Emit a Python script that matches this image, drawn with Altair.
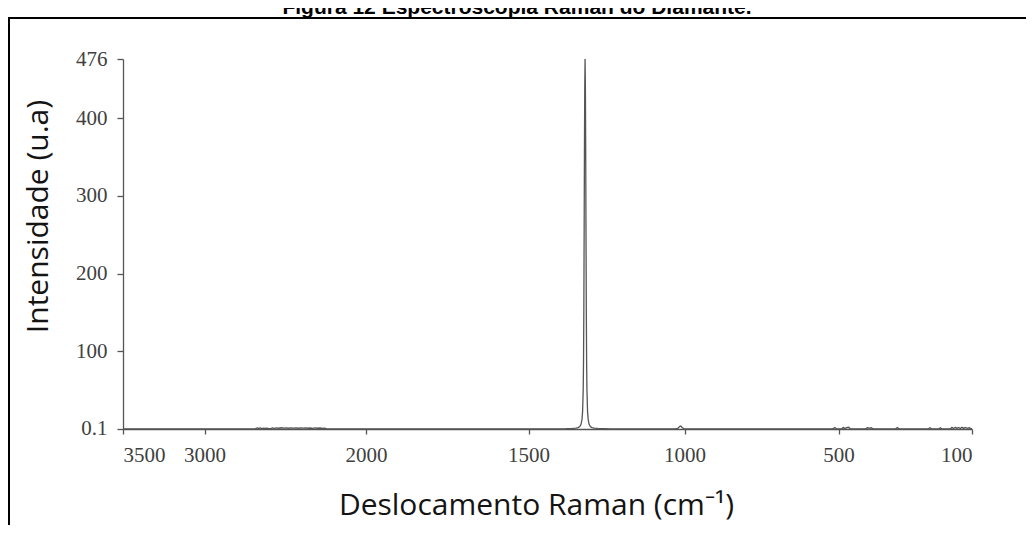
import altair as alt
import pandas as pd

# Raman shift (cm^-1) and intensity (a.u.)
shift = [3500, 2690, 2680, 2672, 2665, 2655, 2645, 2635, 2625, 2612, 2600, 2590,
         2580, 2568, 2555, 2540, 2525, 2510, 2495, 2480, 2465, 2450, 2435, 2420,
         2405, 2390, 2375, 2360, 2345, 2330, 2315, 2300, 2285, 2270, 2255, 2245,
         1400, 1380, 1372, 1360, 1349, 1341, 1336, 1332, 1329, 1327, 1325, 1324,
         1323, 1322, 1321, 1320, 1319, 1318, 1317, 1316, 1315, 1314, 1313, 1311,
         1309, 1306, 1302, 1297, 1289, 1278, 1266, 1258, 1240,
         1030, 1022, 1016, 1012, 1008, 1003, 995,
         520, 512, 507, 490, 486, 482, 476, 470, 465, 420, 414, 408, 402, 396,
         330, 324, 318, 232, 226, 220, 200, 195, 190, 165, 160, 155, 150, 145,
         140, 135, 130, 125, 120, 114, 108, 104, 100]
intensity = [0, 0, 0.8, 1.4, 0.7, 1.3, 0.6, 1.2, 0.8, 1.0, 0.3, 0.6,
             1.3, 0.9, 1.5, 1.0, 1.6, 1.1, 1.5, 1.0, 1.4, 1.1, 1.5, 1.0,
             1.4, 1.1, 1.5, 1.0, 1.3, 0.9, 1.4, 1.0, 1.3, 0.8, 1.0, 0.2,
             0, 0.3, 0.5, 0.7, 1.0, 1.8, 3.2, 6, 12, 22, 50, 85,
             150, 250, 360, 440, 476, 440, 360, 250, 150, 85, 50, 22,
             12, 6, 3.2, 1.8, 1.0, 0.7, 0.5, 0.3, 0,
             0, 0.8, 3.2, 3.8, 2.0, 0.6, 0,
             0, 1.8, 0.2, 0.3, 2.0, 0.5, 1.8, 2.2, 0.3, 0, 1.6, 1.2, 1.6, 0,
             0, 1.8, 0, 0, 1.6, 0, 0, 1.6, 0, 0, 2.0, 0.6, 2.2, 0.8,
             2.0, 0.6, 2.2, 0.8, 2.0, 0.8, 1.6, 0.6, 0.5]

x_ticks = [3500, 3000, 2000, 1500, 1000, 500, 100]
y_ticks = [0.1, 100, 200, 300, 400, 476]

title_text = "Figura 12 Espectroscopia Raman do Diamante."
x_title = "Deslocamento Raman (cm\u207b\u00b9)"
y_title = "Intensidade (u.a)"

W, H = 849, 370
# piecewise x axis (the original figure has a compressed high-shift region)
x_range = [0, 81.6, 243, 405.6, 561.6, 715.6, W]

df = pd.DataFrame({"shift": shift, "intensity": intensity})
one = pd.DataFrame({"k": [0]})

line = alt.Chart(df).mark_line(color="#555555", strokeWidth=1.3).encode(
    x=alt.X("shift:Q",
            scale=alt.Scale(domain=x_ticks, range=x_range, nice=False, zero=False),
            axis=alt.Axis(values=x_ticks, title=x_title, grid=False, format="d",
                          tickSize=5, labelPadding=10,
                          titleX=413, titleY=85, titleAlign="center",
                          titleBaseline="alphabetic")),
    y=alt.Y("intensity:Q",
            scale=alt.Scale(domain=[0, 476], nice=False, zero=False),
            axis=alt.Axis(values=y_ticks, title=y_title, grid=False,
                          tickSize=6, labelPadding=10,
                          labelExpr="datum.value < 1 ? '0.1' : format(datum.value, 'd')",
                          titleX=-85, titleY=157, titleAngle=-90,
                          titleAlign="center", titleBaseline="middle")),
)

border_top = alt.Chart(one).mark_rule(color="black", strokeWidth=2).encode(
    x=alt.value(-115), x2=alt.value(W + 60), y=alt.value(-41))
border_left = alt.Chart(one).mark_rule(color="black", strokeWidth=2).encode(
    x=alt.value(-114), y=alt.value(-42), y2=alt.value(H + 100))
title = alt.Chart(one).mark_text(font="Liberation Sans", fontSize=21, fontWeight="bold",
                                 color="black", align="center",
                                 baseline="alphabetic").encode(
    x=alt.value(394), y=alt.value(-45), text=alt.value(title_text))

chart = alt.layer(border_top, border_left, title, line).properties(
    width=W, height=H,
    padding={"left": 115, "top": 51, "right": 54, "bottom": 96},
    autosize=alt.AutoSizeParams(type="none"),
).configure_view(stroke=None).configure_axis(
    domainColor="#555555", tickColor="#555555", domainWidth=1.3, tickWidth=1.3,
    labelFont="Liberation Serif", labelFontSize=21, labelColor="#404040",
    titleFont="Open Sans", titleFontSize=30, titleFontWeight="normal",
    titleColor="#141414",
)

chart.save("out.html", embed_options={"renderer": "svg", "actions": False})
